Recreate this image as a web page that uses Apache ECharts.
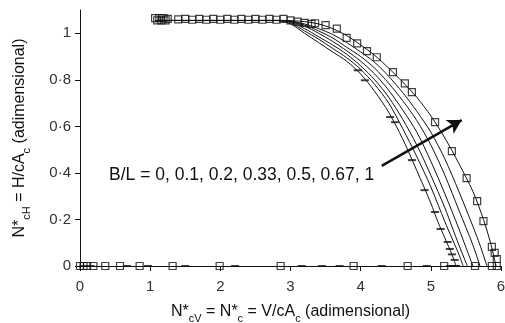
<!DOCTYPE html>
<html><head><meta charset="utf-8">
<script src="https://cdn.jsdelivr.net/npm/echarts@6/dist/echarts.min.js"></script>
<style>html,body{margin:0;padding:0;background:#fff}#c{width:505px;height:323px}</style>
</head><body><div id="c"></div>
<script>
// B/L values for the seven curves
const bl = ['0', '0.1', '0.2', '0.33', '0.5', '0.67', '1'];
const curveX = [
  [1.07, 2.8, 3.0, 3.2, 3.4, 3.6, 3.8, 4.0, 4.2, 4.4, 4.6, 4.8, 5.0, 5.1, 5.2, 5.3, 5.36],
  [1.07, 2.85, 3.0, 3.2, 3.4, 3.6, 3.8, 4.0, 4.2, 4.4, 4.6, 4.8, 5.0, 5.2, 5.3, 5.4, 5.46],
  [1.07, 2.9, 3.2, 3.4, 3.6, 3.8, 4.0, 4.2, 4.4, 4.6, 4.8, 5.0, 5.2, 5.3, 5.4, 5.48, 5.52],
  [1.07, 2.9, 3.2, 3.4, 3.6, 3.8, 4.0, 4.2, 4.4, 4.6, 4.8, 5.0, 5.2, 5.4, 5.5, 5.6],
  [1.07, 2.9, 3.2, 3.4, 3.6, 3.8, 4.0, 4.2, 4.4, 4.6, 4.8, 5.0, 5.2, 5.4, 5.6, 5.7],
  [1.07, 2.9, 3.2, 3.4, 3.6, 3.8, 4.0, 4.2, 4.4, 4.6, 4.8, 5.0, 5.2, 5.4, 5.6, 5.7, 5.8],
  [1.07, 2.9, 3.2, 3.4, 3.6, 3.8, 4.0, 4.2, 4.4, 4.6, 4.8, 5.0, 5.2, 5.4, 5.6, 5.75, 5.85, 5.93]
];
const curveY = [
  [1.055, 1.055, 1.04, 1.0, 0.96, 0.92, 0.88, 0.825, 0.75, 0.66, 0.545, 0.41, 0.27, 0.19, 0.12, 0.05, 0],
  [1.055, 1.055, 1.045, 1.01, 0.975, 0.935, 0.895, 0.845, 0.78, 0.7, 0.59, 0.47, 0.34, 0.19, 0.12, 0.05, 0],
  [1.055, 1.055, 1.02, 0.985, 0.95, 0.91, 0.86, 0.8, 0.725, 0.63, 0.52, 0.39, 0.25, 0.17, 0.09, 0.03, 0],
  [1.055, 1.055, 1.03, 1.0, 0.965, 0.925, 0.88, 0.825, 0.755, 0.67, 0.575, 0.45, 0.31, 0.16, 0.08, 0],
  [1.055, 1.055, 1.035, 1.01, 0.98, 0.94, 0.9, 0.85, 0.785, 0.71, 0.625, 0.52, 0.39, 0.24, 0.09, 0],
  [1.055, 1.055, 1.04, 1.02, 0.995, 0.96, 0.92, 0.875, 0.815, 0.745, 0.665, 0.575, 0.46, 0.32, 0.17, 0.09, 0],
  [1.055, 1.055, 1.05, 1.04, 1.02, 0.99, 0.95, 0.905, 0.85, 0.79, 0.725, 0.645, 0.55, 0.44, 0.32, 0.2, 0.1, 0]
];
// square markers along the zero line
const squareZeroX = [0, 0.05, 0.1, 0.19, 0.36, 0.57, 0.85, 1.32, 1.99, 2.86, 3.9, 4.67, 5.19, 5.63, 5.87, 5.94];
// square markers on the plateau (two slightly offset rows) and on the outer curve
const squareTopX = [1.07, 1.1, 1.13, 1.16, 1.19, 1.22, 1.25, 1.4, 1.5, 1.6, 1.7, 1.8, 1.9, 2.0, 2.1, 2.2, 2.3, 2.4,
  2.5, 2.6, 2.7, 2.8, 2.9, 3.0, 3.1, 3.2, 3.3];
const squareTopY = [1.065, 1.055, 1.065, 1.055, 1.065, 1.055, 1.062, 1.06, 1.062, 1.058, 1.062, 1.058, 1.062, 1.058,
  1.062, 1.058, 1.062, 1.058, 1.062, 1.058, 1.062, 1.058, 1.062, 1.055, 1.05, 1.045, 1.04];
const squareCurveX = [3.35, 3.5, 3.66, 3.8, 3.95, 4.09, 4.23, 4.46, 4.63, 4.73, 5.06, 5.3, 5.51, 5.66, 5.75, 5.87, 5.91, 5.94];
const squareCurveY = [1.043, 1.035, 1.02, 0.98, 0.957, 0.923, 0.897, 0.833, 0.785, 0.747, 0.618, 0.494, 0.378, 0.279, 0.193, 0.082, 0.056, 0.03];
// dash markers (B/L = 0 points)
const dashX = [0.05, 0.15, 0.67, 0.97, 1.5, 2.21, 3.16, 3.45, 3.7, 4.3, 4.94, 5.27, 5.31, 5.34, 5.36,
  3.96, 4.06, 4.42, 4.49, 4.73, 4.91, 5.06, 5.14, 5.24, 5.27, 5.3, 5.34];
const dashY = [0, 0, 0, 0, 0, 0, 0, 0, 0, 0, 0, 0, 0, 0, 0,
  0.841, 0.798, 0.64, 0.618, 0.455, 0.326, 0.232, 0.159, 0.103, 0.073, 0.05, 0.026];
const yTicks = [0, 0.2, 0.4, 0.6, 0.8, 1];
const noteText = 'B/L = 0, 0.1, 0.2, 0.33, 0.5, 0.67, 1';
const arrowFrom = [4.3, 0.43];
const arrowTo = [5.44, 0.627];

const zip = (a, b) => a.map((v, i) => [v, b[i]]);
const font = 'Liberation Sans, Arial, sans-serif';
const series = curveX.map((xs, i) => ({
  type: 'line', name: 'B/L=' + bl[i], data: zip(xs, curveY[i]), symbol: 'none', smooth: 0.3,
  lineStyle: { color: '#111', width: 1 }, z: 2, silent: true
}));
const squares = zip(squareZeroX, squareZeroX.map(() => 0))
  .concat(zip(squareTopX, squareTopY))
  .concat(zip(squareCurveX, squareCurveY));
series.push({
  type: 'scatter', data: squares, symbol: 'rect', symbolSize: 7,
  itemStyle: { color: 'rgba(255,255,255,0)', borderColor: '#111', borderWidth: 1.2 }, z: 3, silent: true
});
series.push({
  type: 'scatter', data: zip(dashX, dashY), symbol: 'rect', symbolSize: [8, 2],
  itemStyle: { color: '#111' }, z: 3, silent: true,
  markLine: {
    silent: true, symbol: ['none', 'arrow'], symbolSize: [12, 14],
    lineStyle: { color: '#111', width: 2.5, type: 'solid' }, label: { show: false },
    data: [[{ coord: arrowFrom }, { coord: arrowTo }]]
  }
});

const chart = echarts.init(document.getElementById('c'), null, { renderer: 'canvas' });
chart.setOption({
  animation: false,
  backgroundColor: '#fff',
  grid: { left: 80, right: 4, top: 10, bottom: 57, outerBoundsMode: 'none', containLabel: false },
  xAxis: {
    type: 'value', min: 0, max: 6, interval: 1,
    axisLine: { lineStyle: { color: '#111', width: 1 } },
    axisTick: { show: true, length: 5, lineStyle: { color: '#111' } },
    splitLine: { show: false },
    axisLabel: { color: '#333', fontSize: 15, fontFamily: font, margin: 13 },
    name: '{n|N*}{s|cV}{n| = N*}{s|c}{n| = V/cA}{s|c}{n| (adimensional)}',
    nameLocation: 'middle', nameGap: 34,
    nameTextStyle: {
      rich: {
        n: { fontSize: 16, fontFamily: font, color: '#111', verticalAlign: 'bottom', lineHeight: 20 },
        s: { fontSize: 11, fontFamily: font, color: '#111', verticalAlign: 'bottom', lineHeight: 20, padding: [0, 0, -4, 0] }
      }
    }
  },
  yAxis: {
    type: 'value', min: 0, max: 1.1, interval: 0.2,
    axisLine: { show: true, lineStyle: { color: '#111', width: 1 } },
    axisTick: { show: true, length: 5, lineStyle: { color: '#111' }, customValues: yTicks },
    splitLine: { show: false },
    axisLabel: {
      color: '#333', fontSize: 15, fontFamily: font, margin: 9, customValues: yTicks,
      formatter: v => (v === 0 ? '0' : v === 1 ? '1' : '0·' + Math.round(v * 10))
    },
    name: '{n|N*}{s|cH}{n| = H/cA}{s|c}{n| (adimensional)}',
    nameLocation: 'middle', nameGap: 52, nameRotate: 90,
    nameTextStyle: {
      rich: {
        n: { fontSize: 16, fontFamily: font, color: '#111', verticalAlign: 'bottom', lineHeight: 20 },
        s: { fontSize: 11, fontFamily: font, color: '#111', verticalAlign: 'bottom', lineHeight: 20, padding: [0, 0, -4, 0] }
      }
    }
  },
  graphic: [{
    type: 'text', left: 109, top: 166, silent: true,
    style: { text: noteText, font: '17.5px ' + font, fill: '#111' }
  }],
  series: series
});
</script></body></html>
